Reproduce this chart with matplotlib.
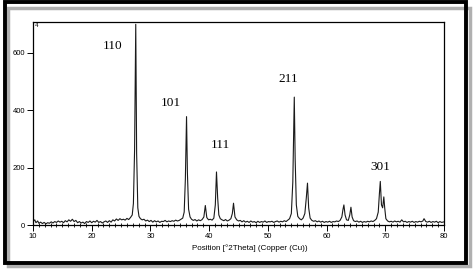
import matplotlib
matplotlib.use("Agg")
import matplotlib.pyplot as plt
from matplotlib.patches import Rectangle
from matplotlib.ticker import MultipleLocator

# diffraction trace: position (deg 2theta) and counts
two_theta = [
    10.0, 10.3, 10.5, 10.8, 11.0, 11.3, 11.6, 11.9, 12.2, 12.5, 12.8, 13.1, 13.4, 13.7,
    14.0, 14.3, 14.6, 14.9, 15.2, 15.5, 15.8, 16.1, 16.4, 16.7, 17.0, 17.3, 17.6, 17.9,
    18.2, 18.5, 18.8, 19.1, 19.4, 19.7, 20.0, 20.3, 20.6, 20.9, 21.2, 21.5, 21.8, 22.1,
    22.4, 22.7, 23.0, 23.3, 23.6, 23.9, 24.2, 24.5, 24.8, 25.1, 25.4, 25.7, 26.0, 26.3,
    26.6, 26.9, 27.1, 27.3, 27.5, 27.65, 27.85, 28.05, 28.3, 28.6, 28.9, 29.2, 29.5,
    29.8, 30.1, 30.4, 30.7, 31.0, 31.3, 31.6, 31.9, 32.2, 32.5, 32.8, 33.1, 33.4, 33.7,
    34.0, 34.3, 34.6, 34.9, 35.2, 35.5, 35.75, 35.95, 36.15, 36.3, 36.5, 36.75, 37.0,
    37.3, 37.6, 37.9, 38.2, 38.5, 38.8, 39.1, 39.35, 39.6, 39.9, 40.2, 40.5, 40.8, 41.05,
    41.25, 41.45, 41.65, 41.9, 42.2, 42.5, 42.8, 43.1, 43.4, 43.7, 43.95, 44.15, 44.4,
    44.7, 45.0, 45.3, 45.6, 45.9, 46.2, 46.5, 46.8, 47.1, 47.4, 47.7, 48.0, 48.3, 48.6,
    48.9, 49.2, 49.5, 49.8, 50.1, 50.4, 50.7, 51.0, 51.3, 51.6, 51.9, 52.2, 52.5, 52.8,
    53.1, 53.4, 53.7, 54.0, 54.25, 54.5, 54.65, 54.85, 55.1, 55.4, 55.7, 56.0, 56.3,
    56.55, 56.75, 56.95, 57.2, 57.5, 57.8, 58.1, 58.4, 58.7, 59.0, 59.3, 59.6, 59.9,
    60.2, 60.5, 60.8, 61.1, 61.4, 61.7, 62.0, 62.3, 62.6, 62.8, 62.95, 63.15, 63.4,
    63.7, 63.95, 64.15, 64.35, 64.6, 64.9, 65.2, 65.5, 65.8, 66.1, 66.4, 66.7, 67.0,
    67.3, 67.6, 67.9, 68.2, 68.5, 68.8, 69.0, 69.15, 69.35, 69.55, 69.75, 69.9, 70.1,
    70.4, 70.7, 71.0, 71.3, 71.6, 71.9, 72.2, 72.5, 72.8, 73.1, 73.4, 73.7, 74.0, 74.3,
    74.6, 74.9, 75.2, 75.5, 75.8, 76.1, 76.4, 76.6, 76.9, 77.2, 77.5, 77.8, 78.1, 78.4,
    78.7, 79.0, 79.3, 79.6, 80.0,
]
counts = [
    12, 18, 8, 14, 6, 10, 5, 9, 4, 8, 6, 11, 7, 12,
    9, 14, 10, 13, 8, 15, 11, 18, 13, 20, 12, 16, 8, 12,
    7, 10, 5, 12, 9, 14, 8, 13, 10, 16, 9, 12, 7, 11,
    14, 9, 15, 10, 18, 14, 21, 16, 22, 18, 20, 17, 23, 19,
    26, 35, 75, 260, 700, 250, 60, 30, 22, 18, 20, 14, 17,
    12, 16, 10, 15, 11, 14, 9, 13, 12, 16, 11, 14, 12, 15,
    13, 17, 14, 16, 20, 24, 45, 160, 378, 180, 55, 28, 20,
    16, 19, 14, 18, 15, 19, 28, 68, 26, 18, 20, 17, 24, 70,
    185, 95, 35, 22, 18, 15, 19, 14, 17, 22, 40, 76, 28,
    18, 14, 16, 11, 15, 10, 13, 9, 14, 10, 12, 8, 13, 9,
    12, 10, 14, 9, 12, 11, 13, 9, 12, 14, 10, 13, 11, 15,
    12, 17, 22, 40, 150, 446, 230, 70, 30, 22, 18, 24, 40,
    95, 146, 60, 24, 16, 13, 15, 11, 14, 10, 13, 9, 12,
    10, 13, 9, 12, 11, 14, 12, 16, 28, 55, 70, 35, 18,
    16, 35, 62, 28, 15, 12, 14, 10, 13, 9, 12, 10, 13,
    11, 14, 12, 16, 22, 45, 110, 152, 70, 60, 98, 60, 22,
    14, 11, 13, 10, 14, 11, 13, 10, 18, 11, 13, 9, 12, 10,
    13, 9, 12, 10, 13, 11, 14, 22, 12, 10, 13, 9, 12, 10,
    13, 8, 12, 9, 11,
]

# Miller index labels and where they sit
hkl_labels = ["110", "101", "111", "211", "301"]
hkl_x = [23.5, 33.4, 41.9, 53.4, 69.1]
hkl_y = [624, 425, 279, 509, 202]

fig = plt.figure(figsize=(4.74, 2.70), dpi=100)
fig.patch.set_facecolor("white")

# picture frame with a soft shadow
fig.patches.append(Rectangle((8/474, 4/270), 462/474, 258/270, transform=fig.transFigure,
                             fill=False, edgecolor="#b0b0b0", linewidth=2.5, zorder=0))
fig.patches.append(Rectangle((5/474, 7/270), 461/474, 261/270, transform=fig.transFigure,
                             fill=False, edgecolor="black", linewidth=2.8, zorder=1))

ax = fig.add_axes([33/474, 1 - 225/270, 411/474, 203/270])
ax.plot(two_theta, counts, color="#1a1a1a", linewidth=0.8)

ax.set_xlim(10, 80)
ax.set_ylim(0, 708)
ax.xaxis.set_major_locator(MultipleLocator(10))
ax.xaxis.set_minor_locator(MultipleLocator(1))
ax.yaxis.set_major_locator(MultipleLocator(200))

ax.tick_params(axis="x", which="major", direction="out", length=4, width=0.7,
               labelsize=5.5, pad=1.5)
ax.tick_params(axis="x", which="minor", direction="inout", length=3, width=0.6)
ax.tick_params(axis="y", which="major", direction="out", length=4, width=0.7,
               labelsize=5.5, pad=1.5)
for s in ax.spines.values():
    s.set_linewidth(0.9)

for lab in ax.get_xticklabels() + ax.get_yticklabels():
    lab.set_family("Liberation Sans")

fig.text(250/474, 1 - 248/270, "Position [\u00b02Theta] (Copper (Cu))",
         ha="center", va="center", fontsize=5.8, family="Liberation Sans")

ax.text(0.005, 0.995, "4", transform=ax.transAxes, ha="left", va="top",
        fontsize=4.5, family="Liberation Sans")

for lab, x, y in zip(hkl_labels, hkl_x, hkl_y):
    ax.text(x, y, lab, ha="center", va="center", fontsize=9.5,
            family="Liberation Serif")

fig.savefig("out.png", dpi=100)
